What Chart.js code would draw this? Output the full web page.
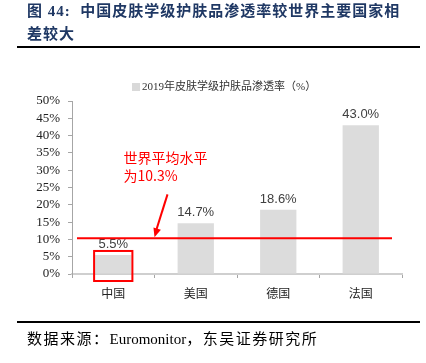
<!DOCTYPE html>
<html><head><meta charset="utf-8">
<script src="https://cdn.jsdelivr.net/npm/chart.js@4/dist/chart.umd.min.js"></script>
<style>
body{margin:0;background:#fff;width:426px;height:363px;overflow:hidden;position:relative;}
#title{position:absolute;left:27px;top:0;white-space:nowrap;font:bold 15px "Liberation Serif","Noto Sans CJK SC";color:#1f3864;line-height:23px;letter-spacing:1px;}
#rule1{position:absolute;left:17px;top:46px;width:403px;height:2px;background:#000;}
#rule2{position:absolute;left:17px;top:321px;width:403px;height:2px;background:#000;}
#src{position:absolute;left:27px;top:327px;font:15px "Liberation Serif","Noto Sans CJK SC";color:#000;white-space:nowrap;}
#src .cj{letter-spacing:1.5px;}
#wrap{position:absolute;left:0;top:0;width:426px;height:363px;}
</style></head>
<body>
<div id="wrap"><canvas id="c"></canvas></div>
<div id="title">图 44:&nbsp; 中国皮肤学级护肤品渗透率较世界主要国家相<br>差较大</div>
<div id="rule1"></div>
<div id="src"><span class="cj">数据来源：</span>Euromonitor<span class="cj">，东吴证券研究所</span></div>
<div id="rule2"></div>
<script>
const categories = ["中国", "美国", "德国", "法国"];
const penetration = [5.5, 14.7, 18.6, 43.0];
const worldAverage = 10.3;
const seriesLabel = "2019年皮肤学级护肤品渗透率（%）";
const annotationLines = ["世界平均水平", "为10.3%"];
const yTicks = [0, 5, 10, 15, 20, 25, 30, 35, 40, 45, 50];

const overlay = {
  id: 'overlay',
  afterDatasetsDraw(chart) {
    const ctx = chart.ctx, ys = chart.scales.y, area = chart.chartArea;
    const meta = chart.getDatasetMeta(0);
    ctx.save();
    ctx.font = '13px "Liberation Sans", Arial';
    ctx.fillStyle = '#404040';
    ctx.textAlign = 'center';
    ctx.textBaseline = 'bottom';
    meta.data.forEach((b, i) => {
      ctx.fillText(penetration[i].toFixed(1) + '%', b.x, b.y - 4);
    });
    const ay = ys.getPixelForValue(worldAverage);
    ctx.strokeStyle = '#ff0000';
    ctx.lineWidth = 2;
    ctx.beginPath();
    ctx.moveTo(area.left + 5, ay);
    ctx.lineTo(area.right - 10, ay);
    ctx.stroke();
    const b0 = meta.data[0];
    const hw = b0.width / 2 + 1;
    ctx.strokeRect(b0.x - hw, b0.y - 4, hw * 2, ys.getPixelForValue(0) + 7 - (b0.y - 4));
    const tipX = (meta.data[0].x + meta.data[1].x) / 2;
    const tipY = ay - 1;
    const sx = tipX + 13, sy = tipY - 43;
    ctx.beginPath();
    ctx.moveTo(sx, sy);
    ctx.lineTo(tipX + 2, tipY - 8);
    ctx.stroke();
    const ang = Math.atan2(tipY - sy, tipX - sx);
    ctx.fillStyle = '#ff0000';
    ctx.beginPath();
    ctx.moveTo(tipX, tipY);
    ctx.lineTo(tipX - 10 * Math.cos(ang - 0.4), tipY - 10 * Math.sin(ang - 0.4));
    ctx.lineTo(tipX - 10 * Math.cos(ang + 0.4), tipY - 10 * Math.sin(ang + 0.4));
    ctx.closePath();
    ctx.fill();
    ctx.font = '14px "Noto Sans CJK SC"';
    ctx.textAlign = 'left';
    ctx.textBaseline = 'middle';
    ctx.fillText(annotationLines[0], tipX - 31, sy - 37);
    ctx.fillText(annotationLines[1], tipX - 31, sy - 19);
    ctx.fillStyle = '#d9d9d9';
    ctx.fillRect(132, 83, 8, 8);
    ctx.fillStyle = '#333';
    ctx.font = '11px "Liberation Serif", "Noto Sans CJK SC"';
    ctx.fillText(chart.data.datasets[0].label, 142, 87);
    ctx.restore();
  }
};

new Chart(document.getElementById('c'), {
  type: 'bar',
  data: {
    labels: categories,
    datasets: [{
      label: seriesLabel,
      data: penetration,
      backgroundColor: '#dcdcdc',
      categoryPercentage: 1,
      barPercentage: 0.44
    }]
  },
  options: {
    responsive: true,
    maintainAspectRatio: false,
    animation: false,
    layout: { padding: { left: 0, right: 24, top: 101, bottom: 59 } },
    plugins: { legend: { display: false }, tooltip: { enabled: false } },
    scales: {
      x: {
        grid: { drawOnChartArea: false, tickLength: 4, color: '#a6a6a6', offset: true },
        border: { color: '#cfcfcf', width: 2 },
        ticks: { font: { family: '"Noto Sans CJK SC"', size: 12 }, color: '#222', padding: 8 },
        afterFit(s) { s.height = 30; }
      },
      y: {
        min: 0, max: 50,
        afterBuildTicks(s) { s.ticks = yTicks.map(v => ({ value: v })); },
        grid: { drawOnChartArea: false, tickLength: 4, color: '#a6a6a6' },
        border: { color: '#a6a6a6', width: 1 },
        ticks: { autoSkip: false, font: { family: '"Liberation Serif"', size: 13 }, color: '#222', padding: 8, callback: v => v + '%' },
        afterFit(s) { s.width = 72; }
      }
    }
  },
  plugins: [overlay]
});
</script>
</body></html>
